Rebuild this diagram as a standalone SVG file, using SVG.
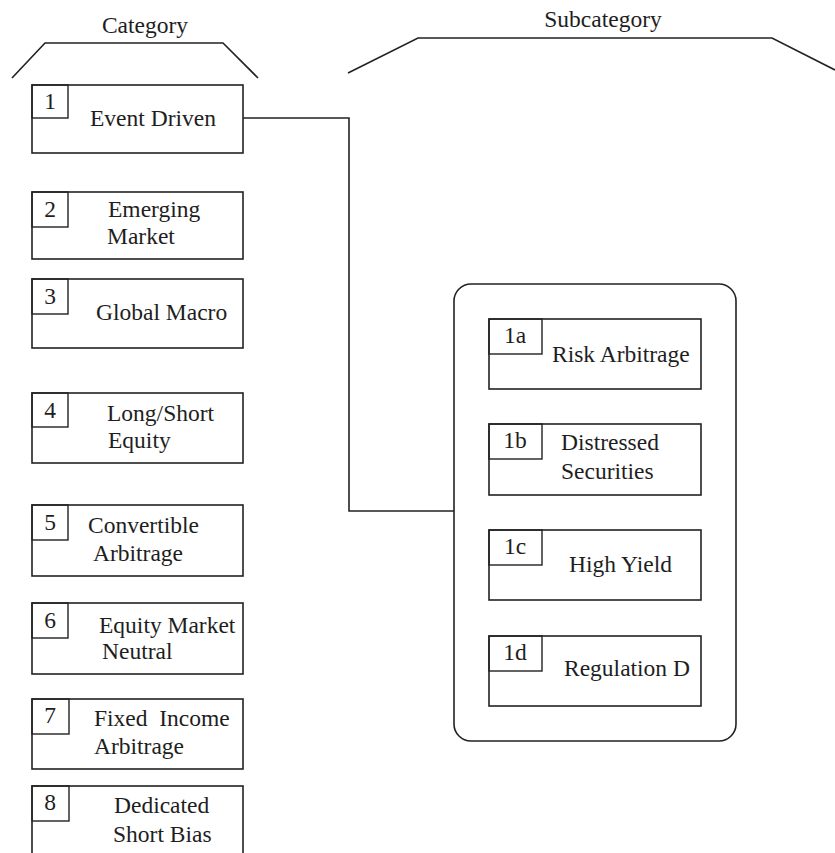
<svg xmlns="http://www.w3.org/2000/svg" width="835" height="853" viewBox="0 0 835 853">
<style>
.b{fill:#fff;stroke:#222;stroke-width:1.6}
.n{fill:none;stroke:#222;stroke-width:1.4}
.l{fill:none;stroke:#222;stroke-width:1.6}
text{font-size:23.5px;fill:#1e1e1e}
.c{text-anchor:middle}
</style>
<rect width="835" height="853" fill="#fff"/>
<g font-family="'Liberation Serif', 'Times New Roman', Tinos, 'DejaVu Serif', serif">
<g id="headers">
<polyline class="l" points="12,78 45,43 223,43 258,78"/>
<text class="c" x="145" y="33">Category</text>
<polyline class="l" points="348,73 418,38 772,38 835,70"/>
<text class="c" x="603" y="27">Subcategory</text>
</g>
<g id="connectors">
<polyline class="l" points="243,118 349,118 349,511 454,511"/>
</g>
<g id="cat1"><rect class="b" x="32" y="85" width="211" height="68"/><rect class="n" x="32" y="85" width="36" height="33"/><text class="c" x="50" y="109">1</text><text x="90" y="126">Event Driven</text></g>
<g id="cat2"><rect class="b" x="32" y="192" width="211" height="67"/><rect class="n" x="32" y="192" width="36" height="35"/><text class="c" x="50" y="217">2</text><text x="108" y="217">Emerging</text><text x="107" y="244">Market</text></g>
<g id="cat3"><rect class="b" x="32" y="279" width="211" height="69"/><rect class="n" x="32" y="279" width="36" height="35"/><text class="c" x="50" y="304">3</text><text x="96" y="320">Global Macro</text></g>
<g id="cat4"><rect class="b" x="32" y="393" width="211" height="70"/><rect class="n" x="32" y="393" width="36" height="34"/><text class="c" x="50" y="418">4</text><text x="107" y="421">Long/Short</text><text x="108" y="448">Equity</text></g>
<g id="cat5"><rect class="b" x="32" y="505" width="211" height="71"/><rect class="n" x="32" y="505" width="36" height="35"/><text class="c" x="50" y="530">5</text><text x="88" y="533">Convertible</text><text x="93" y="561">Arbitrage</text></g>
<g id="cat6"><rect class="b" x="32" y="603" width="211" height="71"/><rect class="n" x="32" y="603" width="36" height="35"/><text class="c" x="50" y="628">6</text><text x="99" y="633">Equity Market</text><text x="102" y="659">Neutral</text></g>
<g id="cat7"><rect class="b" x="32" y="699" width="211" height="70"/><rect class="n" x="32" y="699" width="37" height="35"/><text class="c" x="50" y="723">7</text><text x="94" y="726" xml:space="preserve">Fixed  Income</text><text x="94" y="754">Arbitrage</text></g>
<g id="cat8"><rect class="b" x="32" y="786" width="211" height="72"/><rect class="n" x="32" y="786" width="37" height="35"/><text class="c" x="50" y="810">8</text><text x="114" y="813">Dedicated</text><text x="113" y="842">Short Bias</text></g>
<g id="sub-container"><rect class="l" x="454" y="284" width="282" height="457" rx="17" ry="17"/></g>
<g id="sub1a"><rect class="b" x="489" y="319" width="212" height="70"/><rect class="n" x="489" y="319" width="53" height="35"/><text class="c" x="515" y="343">1a</text><text x="552" y="362">Risk Arbitrage</text></g>
<g id="sub1b"><rect class="b" x="489" y="424" width="212" height="71"/><rect class="n" x="489" y="424" width="53" height="35"/><text class="c" x="515" y="448">1b</text><text x="561" y="450">Distressed</text><text x="561" y="479">Securities</text></g>
<g id="sub1c"><rect class="b" x="489" y="530" width="212" height="70"/><rect class="n" x="489" y="530" width="53" height="35"/><text class="c" x="515" y="554">1c</text><text x="569" y="572">High Yield</text></g>
<g id="sub1d"><rect class="b" x="489" y="636" width="212" height="70"/><rect class="n" x="489" y="636" width="53" height="35"/><text class="c" x="515" y="660">1d</text><text x="564" y="676">Regulation D</text></g>
</g>
</svg>
